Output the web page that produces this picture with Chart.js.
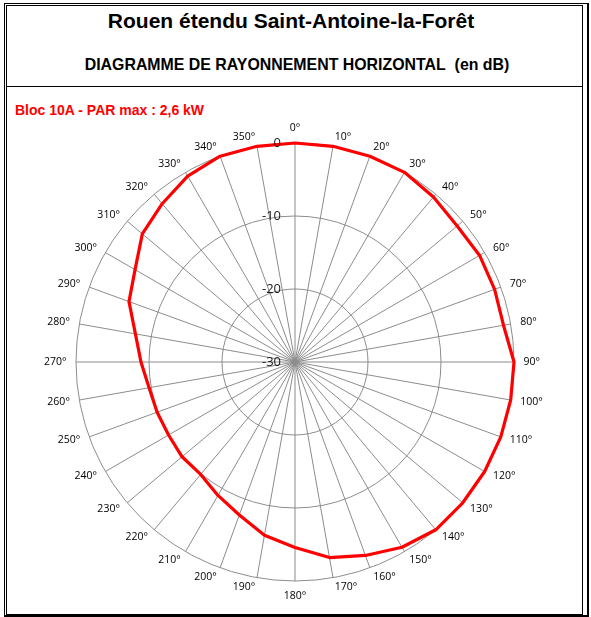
<!DOCTYPE html>
<html lang="fr">
<head>
<meta charset="utf-8">
<title>Rouen étendu Saint-Antoine-la-Forêt</title>
<script src="https://cdn.jsdelivr.net/npm/chart.js@4.4.1/dist/chart.umd.min.js"></script>
<style>
  body { margin: 0; background: #fff; }
  #page { position: relative; width: 591px; height: 617px; overflow: hidden; font-family: "Liberation Sans", Arial, sans-serif; }
  .cadre-ext { position: absolute; left: 4px; top: 3px; width: 582px; height: 611px; border: 1px solid #000; border-right-width: 2px; border-bottom-width: 2px; }
  .cadre-int { position: absolute; left: 6px; top: 5px; width: 575px; height: 608px; border: 1px solid #000; }
  .separateur { position: absolute; left: 6px; top: 86px; width: 577px; height: 1px; background: #000; }
  .texte { position: absolute; white-space: nowrap; font-weight: bold; line-height: 1; }
  #titre { left: -9px; width: 600px; top: 10px; font-size: 21px; text-align: center; color: #000; }
  #sous-titre { left: -3px; width: 600px; top: 57px; font-size: 15.9px; text-align: center; color: #000; }
  #bloc { left: 15px; top: 103px; font-size: 14px; color: #ff0000; }
  canvas { position: absolute; left: 0; top: 0; }
</style>
</head>
<body>
<div id="page">
  <div class="cadre-ext"></div>
  <div class="cadre-int"></div>
  <div class="separateur"></div>
  <div class="texte" id="titre">Rouen étendu Saint-Antoine-la-Forêt</div>
  <div class="texte" id="sous-titre">DIAGRAMME DE RAYONNEMENT HORIZONTAL&nbsp; (en dB)</div>
  <div class="texte" id="bloc">Bloc 10A - PAR max : 2,6 kW</div>
  <canvas id="diagramme" width="591" height="617"></canvas>
</div>
<script>
// azimuts (degrés)
const azimuts = ['0°', '10°', '20°', '30°', '40°', '50°', '60°', '70°', '80°', '90°',
  '100°', '110°', '120°', '130°', '140°', '150°', '160°', '170°', '180°', '190°',
  '200°', '210°', '220°', '230°', '240°', '250°', '260°', '270°', '280°', '290°',
  '300°', '310°', '320°', '330°', '340°', '350°'];

const attenuation = [0, 0, 0, 0, -0.5, -1.0, -0.8, -0.9, -1.0, 0,
  0, 0, 0, 0, 0, -0.7, -1.8, -2.8, -4.6, -5.9,
  -7.7, -8.9, -9.9, -9.8, -10, -9.9, -9.7, -8.9, -7.8, -5.8,
  -4.7, -2.7, -1.7, -0.6, 0, 0];

// graduations de l'axe radial
const graduations = [-30, -20, -10, 0];

// étiquettes dessinées à la main pour coller au placement Excel
const etiquettes = {
  id: 'etiquettes',
  afterDraw(chart) {
    const r = chart.scales.r;
    const ctx = chart.ctx;
    ctx.save();
    ctx.fillStyle = '#000';
    ctx.font = '10.5px "Open Sans"';
    azimuts.forEach((lab, i) => {
      const deg = i * 10;
      const p = r.getPointPosition(i, r.drawingArea + 9.6);
      if (deg === 0 || deg === 180) ctx.textAlign = 'center';
      else ctx.textAlign = deg < 180 ? 'left' : 'right';
      if (deg === 0) ctx.textBaseline = 'bottom';
      else if (deg === 180) ctx.textBaseline = 'top';
      else ctx.textBaseline = 'middle';
      ctx.fillText(lab, p.x, p.y);
    });
    ctx.font = '13px "Open Sans"';
    ctx.fillStyle = '#1a1a1a';
    ctx.textAlign = 'right';
    ctx.textBaseline = 'middle';
    graduations.forEach(v => {
      const d = r.getDistanceFromCenterForValue(v);
      ctx.fillText(String(v), r.xCenter - 14, r.yCenter - d);
    });
    ctx.restore();
  }
};

new Chart(document.getElementById('diagramme'), {
  type: 'radar',
  data: {
    labels: azimuts,
    datasets: [{
      data: attenuation,
      borderColor: '#ff0000',
      borderWidth: 3.2,
      borderJoinStyle: 'round',
      pointRadius: 0,
      pointHoverRadius: 0,
      fill: false,
      tension: 0,
      clip: false
    }]
  },
  options: {
    responsive: false,
    animation: false,
    layout: { padding: { left: 76, right: 77, top: 143, bottom: 36 } },
    plugins: { legend: { display: false }, tooltip: { enabled: false } },
    scales: {
      r: {
        min: -30,
        max: 0,
        ticks: { display: false, stepSize: 10 },
        pointLabels: { display: false },
        grid: { circular: true, color: '#8c8c8c', lineWidth: 1 },
        angleLines: { color: '#8c8c8c', lineWidth: 1 }
      }
    }
  },
  plugins: [etiquettes]
});
</script>
</body>
</html>
